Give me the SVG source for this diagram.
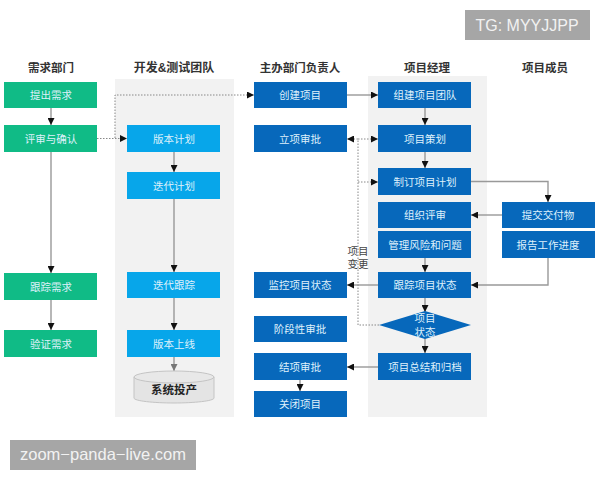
<svg xmlns="http://www.w3.org/2000/svg" width="600" height="480" viewBox="0 0 600 480">
<style>
text{font-family:"Liberation Sans","Noto Sans CJK SC",sans-serif;text-anchor:middle}
.h{font-size:11.5px;font-weight:700;fill:#333}
.l{font-size:10.500px;fill:#dff1fb}
.g{fill:#10bb86}.c{fill:#07a6ea}.b{fill:#0768bb}
.s{fill:none;stroke:#999;stroke-width:1.400}
.k{fill:none;stroke:#888;stroke-width:1;stroke-dasharray:1.500 1.500}
.w{font-size:16px;fill:#f2f2f2}
</style>
<defs>
<marker id="a" markerWidth="7" markerHeight="7" refX="7" refY="3.500" orient="auto" markerUnits="userSpaceOnUse"><path d="M0 0L7 3.500L0 7z" fill="#111"/></marker>
<marker id="m" markerWidth="7" markerHeight="7" refX="7" refY="3.500" orient="auto" markerUnits="userSpaceOnUse"><path d="M0 0L7 3.500L0 7z" fill="#777"/></marker>
</defs>
<rect width="600" height="480" fill="#fff"/>
<g id="lanes">
<rect x="115" y="79" width="119" height="338" fill="#f2f2f2"/>
<rect x="368" y="76" width="119" height="341" fill="#f2f2f2"/>
</g>
<g id="headers">
<text class="h" x="51" y="72">需求部门</text>
<text class="h" x="174" y="72" style="font-size:12px">开发&amp;测试团队</text>
<text class="h" x="300" y="72">主办部门负责人</text>
<text class="h" x="427" y="72">项目经理</text>
<text class="h" x="545" y="72">项目成员</text>
</g>
<g id="connectors">
<path class="s" marker-end="url(#a)" d="M51 108V125"/>
<path class="s" marker-end="url(#a)" d="M51 152V273"/>
<path class="s" marker-end="url(#a)" d="M51 300V330"/>
<path class="k" marker-end="url(#a)" d="M97 138.500H127"/>
<path class="k" marker-end="url(#a)" d="M115 138V95H254"/>
<path class="s" marker-end="url(#a)" d="M174 152V172"/>
<path class="s" marker-end="url(#a)" d="M174 199V272"/>
<path class="s" marker-end="url(#a)" d="M174 298V330"/>
<path class="s" marker-end="url(#m)" d="M174 357V371"/>
<path class="s" marker-end="url(#a)" d="M347 95H378"/>
<path class="s" marker-end="url(#a)" d="M425 108V125"/>
<path class="s" marker-end="url(#a)" d="M425 152V168"/>
<path class="s" marker-end="url(#a)" d="M471 181.500H548V202"/>
<path class="s" marker-end="url(#a)" d="M502 215H471"/>
<path class="s" marker-end="url(#a)" d="M425 258V272"/>
<path class="s" marker-end="url(#a)" d="M548 258V285H471"/>
<path class="s" marker-end="url(#a)" d="M378 285H347"/>
<path class="s" marker-end="url(#a)" d="M425 298V312"/>
<path class="s" marker-end="url(#a)" d="M425 338V353"/>
<path class="s" marker-end="url(#a)" d="M378 367H347"/>
<path class="s" marker-end="url(#a)" d="M300 380V391"/>
<path class="k" marker-end="url(#a)" d="M379 325H358V139H378"/>
<path class="k" marker-end="url(#a)" d="M358 139H347"/>
<path class="k" marker-end="url(#a)" d="M358 182H378"/>
</g>
<g id="n1"><rect class="g" x="4" y="82" width="93" height="26"/><text class="l" x="51" y="99">提出需求</text></g>
<g id="n2"><rect class="g" x="4" y="125" width="93" height="27"/><text class="l" x="51" y="143">评审与确认</text></g>
<g id="n3"><rect class="g" x="4" y="273" width="93" height="27"/><text class="l" x="51" y="291">跟踪需求</text></g>
<g id="n4"><rect class="g" x="4" y="330" width="93" height="27"/><text class="l" x="51" y="348">验证需求</text></g>
<g id="n5"><rect class="c" x="127" y="125" width="93" height="27"/><text class="l" x="174" y="143">版本计划</text></g>
<g id="n6"><rect class="c" x="127" y="172" width="93" height="27"/><text class="l" x="174" y="190">迭代计划</text></g>
<g id="n7"><rect class="c" x="127" y="272" width="93" height="26"/><text class="l" x="174" y="289">迭代跟踪</text></g>
<g id="n8"><rect class="c" x="127" y="330" width="93" height="27"/><text class="l" x="174" y="348">版本上线</text></g>
<g id="n9">
<path d="M134 377V398C134 401 154 403 174 403S214 401 214 398V377z" fill="#e4e4e4" stroke="#c4c4c4"/>
<ellipse cx="174" cy="377" rx="40" ry="6" fill="#e8e8e8" stroke="#c4c4c4"/>
<text x="174" y="394" font-size="11.500" font-weight="700" fill="#222">系统投产</text>
</g>
<g id="n10"><rect class="b" x="254" y="82" width="93" height="26"/><text class="l" x="300" y="99">创建项目</text></g>
<g id="n11"><rect class="b" x="254" y="125" width="93" height="27"/><text class="l" x="300" y="143">立项审批</text></g>
<g id="n12"><rect class="b" x="254" y="272" width="93" height="26"/><text class="l" x="300" y="289">监控项目状态</text></g>
<g id="n13"><rect class="b" x="254" y="316" width="93" height="26"/><text class="l" x="300" y="333">阶段性审批</text></g>
<g id="n14"><rect class="b" x="254" y="353" width="93" height="27"/><text class="l" x="300" y="371">结项审批</text></g>
<g id="n15"><rect class="b" x="254" y="391" width="93" height="26"/><text class="l" x="300" y="408">关闭项目</text></g>
<g id="n16"><rect class="b" x="378" y="82" width="93" height="26"/><text class="l" x="425" y="99">组建项目团队</text></g>
<g id="n17"><rect class="b" x="378" y="125" width="93" height="27"/><text class="l" x="425" y="143">项目策划</text></g>
<g id="n18"><rect class="b" x="378" y="168" width="93" height="27"/><text class="l" x="425" y="186">制订项目计划</text></g>
<g id="n19"><rect class="b" x="378" y="202" width="93" height="26"/><text class="l" x="425" y="219">组织评审</text></g>
<g id="n20"><rect class="b" x="378" y="231" width="93" height="27"/><text class="l" x="425" y="249">管理风险和问题</text></g>
<g id="n21"><rect class="b" x="378" y="272" width="93" height="26"/><text class="l" x="425" y="289">跟踪项目状态</text></g>
<g id="n22"><path class="b" d="M379 325L425 311L471 325L425 339z"/><text class="l" x="425" y="322">项目</text><text class="l" x="425" y="336">状态</text></g>
<g id="n23"><rect class="b" x="378" y="353" width="93" height="27"/><text class="l" x="425" y="371">项目总结和归档</text></g>
<g id="n24"><rect class="b" x="502" y="202" width="93" height="26"/><text class="l" x="548" y="219">提交交付物</text></g>
<g id="n25"><rect class="b" x="502" y="231" width="93" height="27"/><text class="l" x="548" y="249">报告工作进度</text></g>
<g id="note"><text x="358" y="255" font-size="10.500" fill="#444">项目</text><text x="358" y="268" font-size="10.500" fill="#444">变更</text></g>
<g id="marks">
<rect x="465" y="10" width="125" height="30" fill="#a6a6a6"/><text class="w" x="527" y="31">TG: MYYJJPP</text>
<rect x="10" y="440" width="186" height="30" fill="#a6a6a6"/><text class="w" x="103" y="460" style="font-size:16.500px">zoom−panda−live.com</text>
</g>
</svg>
